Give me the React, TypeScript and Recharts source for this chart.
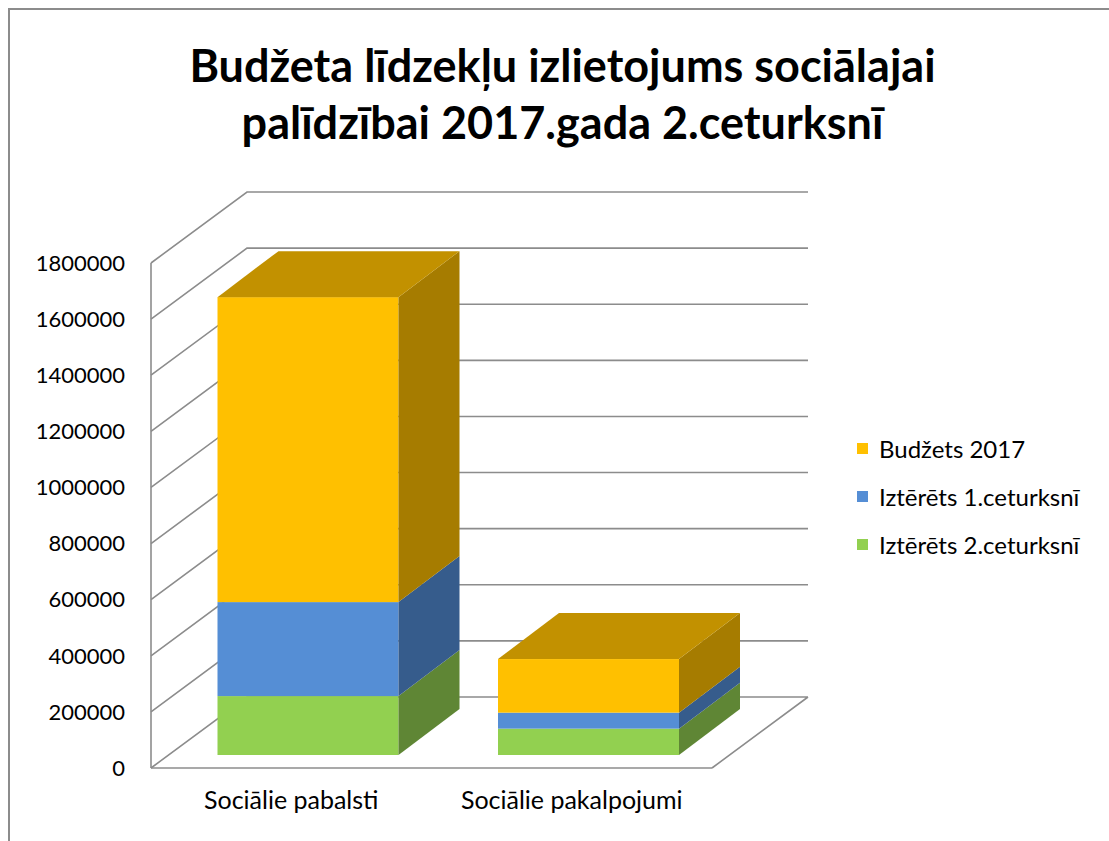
import { BarChart, Bar, XAxis, YAxis, CartesianGrid, Legend } from "recharts";

// categories and stacked values (bottom -> top)
const categories = ["Sociālie pabalsti", "Sociālie pakalpojumi"];
const spentQ2 = [210000, 94000];
const spentQ1 = [335000, 57000];
const budget2017 = [1087000, 191000];
const yTicks = [0, 200000, 400000, 600000, 800000, 1000000, 1200000, 1400000, 1600000, 1800000];

const seriesNames = {
  budget: "Budžets 2017",
  q1: "Iztērēts 1.ceturksnī",
  q2: "Iztērēts 2.ceturksnī",
};

const data = categories.map((name, i) => ({
  name,
  q2: spentQ2[i],
  q1: spentQ1[i],
  budget: budget2017[i],
}));

const FONT = "Lato, 'Open Sans', sans-serif";
const GRID = "#8c8c8c";

// fake 3d: wall depth, and where the boxes sit inside it
const WALL_DX = 96;
const WALL_DY = 71;
const SHIFT_X = 16.5;
const SHIFT_Y = 13;
const BOX_DX = 61;
const BOX_DY = 46;

const makeBox = (front: string, side: string, top?: string) => (props: any) => {
  const { x, y, width, height } = props;
  if (!height || height <= 0) return <g />;
  const fx = x + SHIFT_X;
  const fy = y - SHIFT_Y;
  const r = fx + width;
  const b = fy + height;
  return (
    <g>
      <rect x={fx} y={fy} width={width} height={height} fill={front} />
      <polygon
        points={`${r},${fy} ${r + BOX_DX},${fy - BOX_DY} ${r + BOX_DX},${b - BOX_DY} ${r},${b}`}
        fill={side}
      />
      {top && (
        <polygon
          points={`${fx},${fy} ${fx + BOX_DX},${fy - BOX_DY} ${r + BOX_DX},${fy - BOX_DY} ${r},${fy}`}
          fill={top}
        />
      )}
    </g>
  );
};

const gridLine = (props: any) => {
  const { x1, y1, x2, y, height } = props;
  const by = y1 - WALL_DY;
  let d = `M${x1},${y1} L${x1 + WALL_DX},${by} L${x2 + WALL_DX},${by}`;
  if (Math.abs(y1 - (y + height)) < 0.5) {
    d += ` M${x2},${y1} L${x2 + WALL_DX},${by}`;
  }
  return <path key={props.key ?? `g-${y1}`} d={d} stroke={GRID} strokeWidth={1.6} fill="none" />;
};

const legendItems = [
  { label: seriesNames.budget, color: "#FFC000" },
  { label: seriesNames.q1, color: "#558ED5" },
  { label: seriesNames.q2, color: "#92D050" },
];

const renderLegend = () => (
  <div style={{ fontFamily: FONT, fontSize: 24, color: "#000" }}>
    {legendItems.map((it) => (
      <div key={it.label} style={{ display: "flex", alignItems: "center", height: 48 }}>
        <span style={{ width: 11, height: 11, background: it.color, marginRight: 11, flexShrink: 0 }} />
        <span style={{ whiteSpace: "nowrap" }}>{it.label}</span>
      </div>
    ))}
  </div>
);

export default function App() {
  return (
    <div style={{ position: "absolute", left: 0, top: 0, width: 1109, height: 841, background: "#fff" }}>
      <div
        style={{
          position: "absolute",
          left: 8,
          top: 8,
          width: 1101,
          height: 833,
          borderTop: "2px solid #8c8c8c",
          borderLeft: "2px solid #8c8c8c",
          boxSizing: "border-box",
        }}
      />
      <div
        style={{
          position: "absolute",
          left: 0,
          top: 37,
          width: 1125,
          textAlign: "center",
          fontFamily: FONT,
          fontWeight: 700,
          fontSize: 45,
          lineHeight: "57px",
          color: "#000",
        }}
      >
        Budžeta līdzekļu izlietojums sociālajai
        <br />
        palīdzībai 2017.gada 2.ceturksnī
      </div>
      <div style={{ position: "absolute", left: 0, top: 0 }}>
        <BarChart
          width={1109}
          height={841}
          data={data}
          margin={{ top: 263, right: 397, bottom: 33, left: 91 }}
          barSize={181}
        >
          <CartesianGrid horizontal={gridLine} vertical={false} />
          <XAxis
            dataKey="name"
            height={40}
            axisLine={{ stroke: GRID, strokeWidth: 1.6 }}
            tickLine={false}
            tickSize={0}
            tickMargin={23}
            tick={{ fill: "#000", fontSize: 25, fontFamily: FONT }}
          />
          <YAxis
            width={60}
            domain={[0, 1800000]}
            ticks={yTicks}
            interval={0}
            axisLine={{ stroke: GRID, strokeWidth: 1.6 }}
            tickLine={false}
            tickSize={0}
            tickMargin={26}
            tick={{ fill: "#000", fontSize: 22, fontFamily: FONT }}
          />
          <Legend
            layout="horizontal"
            verticalAlign="middle"
            align="center"
            wrapperStyle={{ left: 857, top: 424, width: 250 }}
            content={renderLegend}
          />
          <Bar dataKey="q2" name={seriesNames.q2} stackId="a" fill="#92D050" isAnimationActive={false} shape={makeBox("#92D050", "#5F8635")} />
          <Bar dataKey="q1" name={seriesNames.q1} stackId="a" fill="#558ED5" isAnimationActive={false} shape={makeBox("#558ED5", "#365C8C")} />
          <Bar dataKey="budget" name={seriesNames.budget} stackId="a" fill="#FFC000" isAnimationActive={false} shape={makeBox("#FFC000", "#A67C00", "#C29100")} />
        </BarChart>
      </div>
    </div>
  );
}
